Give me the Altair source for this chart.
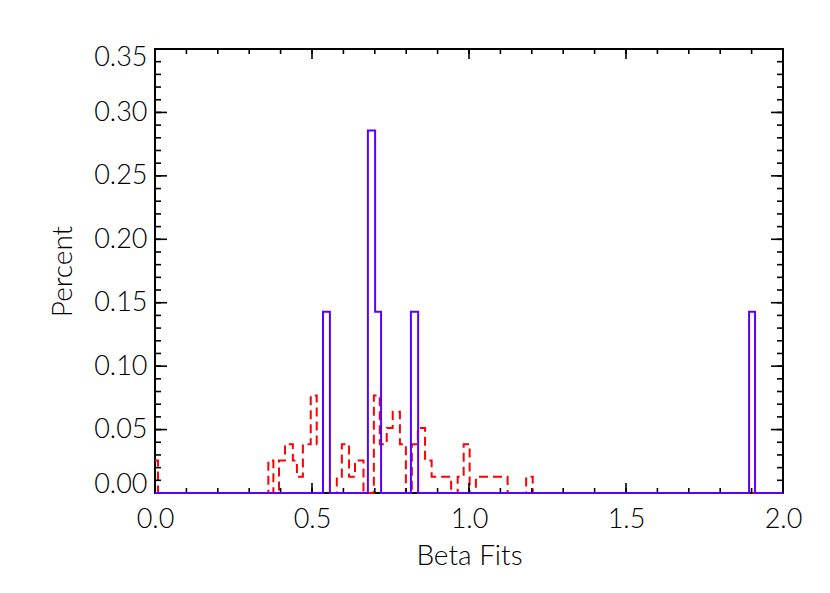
import altair as alt
import pandas as pd

# Step outlines: x = bin edge, y = value from that edge to the next edge
red_x = [0.0, 0.0096, 0.361, 0.377, 0.395, 0.414, 0.439, 0.452, 0.471, 0.496, 0.515,
         0.535, 0.579, 0.595, 0.618, 0.637, 0.664, 0.697, 0.716, 0.738, 0.757,
         0.780, 0.799, 0.818, 0.837, 0.860, 0.881, 0.943, 0.964, 0.983, 1.002,
         1.022, 1.123, 1.182, 1.203, 2.0]
red_y = [0.0256, 0.0, 0.0256, 0.0, 0.0256, 0.0385, 0.0256, 0.0128, 0.0385, 0.0769, 0.0385,
         0.0, 0.0128, 0.0385, 0.0128, 0.0256, 0.0, 0.0769, 0.0385, 0.0513, 0.0641,
         0.0385, 0.0, 0.0385, 0.0513, 0.0256, 0.0128, 0.0, 0.0128, 0.0385, 0.0,
         0.0128, 0.0, 0.0128, 0.0, 0.0]

blue_x = [0.0, 0.535, 0.557, 0.678, 0.701, 0.720, 0.815, 0.838, 1.892, 1.911, 2.0]
blue_y = [0.0, 0.1429, 0.0, 0.2857, 0.1429, 0.0, 0.1429, 0.0, 0.1429, 0.0, 0.0]

x_major = [0.0, 0.5, 1.0, 1.5, 2.0]
x_minor = [round(i * 0.1, 1) for i in range(21)]
y_major = [0.0, 0.05, 0.10, 0.15, 0.20, 0.25, 0.30, 0.35]
y_minor = [round(i * 0.01, 2) for i in range(36)]

W, H = 628, 444
FONT = "Lato"

xs = alt.Scale(domain=[0, 2], nice=False, zero=False)
ys = alt.Scale(domain=[0, 0.35], nice=False, zero=False)

x_axis = alt.Axis(title="Beta Fits", values=x_major, format=".1f", ticks=False, domain=False,
                  grid=False, labelPadding=13, titlePadding=10, labelFlush=False)
y_axis = alt.Axis(title="Percent", values=y_major, format=".2f", ticks=False, domain=False,
                  grid=False, labelPadding=8, labelFlush=True, labelFlushOffset=5,
                  titlePadding=16)

XE = alt.X("x:Q", scale=xs, axis=x_axis)
YE = alt.Y("y:Q", scale=ys, axis=y_axis)

red_df = pd.DataFrame({"x": red_x, "y": red_y})
blue_df = pd.DataFrame({"x": blue_x, "y": blue_y})

red = alt.Chart(red_df).mark_line(
    interpolate="step-after", color="#ff0000", strokeWidth=2, strokeDash=[9, 5]
).encode(x=XE, y=YE)

blue = alt.Chart(blue_df).mark_line(
    interpolate="step-after", color="#5a00ff", strokeWidth=2
).encode(x=XE, y=YE)

def xticks(vals, length):
    df = pd.DataFrame({"x": vals})
    bot = alt.Chart(df).mark_rule(color="black", strokeWidth=1.6).encode(
        x=XE, y=alt.value(H), y2=alt.value(H - length))
    top = alt.Chart(df).mark_rule(color="black", strokeWidth=1.6).encode(
        x=XE, y=alt.value(0), y2=alt.value(length))
    return [bot, top]

def yticks(vals, length):
    df = pd.DataFrame({"y": vals})
    lef = alt.Chart(df).mark_rule(color="black", strokeWidth=1.6).encode(
        y=YE, x=alt.value(0), x2=alt.value(length))
    rig = alt.Chart(df).mark_rule(color="black", strokeWidth=1.6).encode(
        y=YE, x=alt.value(W), x2=alt.value(W - length))
    return [lef, rig]

layers = [red] + xticks(x_minor, 5) + xticks(x_major, 10) + yticks(y_minor, 6) + yticks(y_major, 12) + [blue]

chart = alt.layer(*layers).properties(
    width=W, height=H,
    autosize="none",
    padding={"left": 147, "top": 41, "right": 30, "bottom": 80},
    background="white",
).configure_view(
    stroke="black", strokeWidth=2
).configure_axis(
    labelFont=FONT, titleFont=FONT, labelFontSize=27, titleFontSize=28,
    labelColor="black", titleColor="black", titleFontWeight=300,
    labelFontWeight=300,
)

chart.save("out.html", embed_options={"renderer": "svg", "actions": False})
